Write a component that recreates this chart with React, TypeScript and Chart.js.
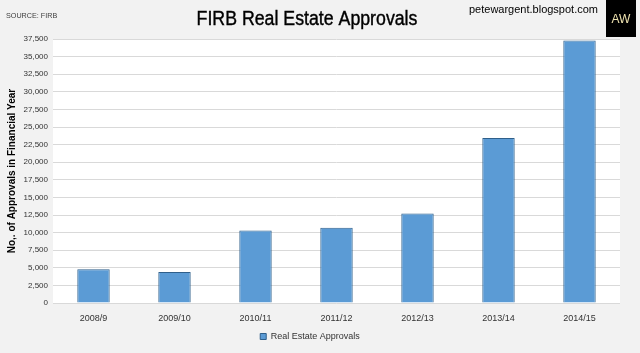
import React, { useEffect, useRef } from "react";
import { Chart, registerables } from "chart.js";

Chart.register(...registerables);

const categories = ["2008/9", "2009/10", "2010/11", "2011/12", "2012/13", "2013/14", "2014/15"];
const approvals = [4800, 4400, 10300, 10700, 12700, 23450, 37300];
const seriesName = "Real Estate Approvals";
const titleText = "FIRB Real Estate Approvals";
const sourceText = "SOURCE: FIRB";
const siteText = "petewargent.blogspot.com";
const yAxisTitle = "No,. of Approvals in Financial Year";

const FONT = "'Liberation Sans', Arial, sans-serif";

const decor = {
  id: "decor",
  beforeDraw(chart: any) {
    const { ctx, chartArea } = chart;
    ctx.save();
    ctx.fillStyle = "#f2f2f2";
    ctx.fillRect(0, 0, chart.width, chart.height);
    ctx.fillStyle = "#ffffff";
    ctx.fillRect(chartArea.left, chartArea.top, chartArea.right - chartArea.left, chartArea.bottom - chartArea.top);
    ctx.restore();
  },
  afterDraw(chart: any) {
    const { ctx } = chart;
    ctx.save();
    // title, horizontally condensed
    ctx.save();
    ctx.translate(307, 25);
    ctx.scale(0.887, 1);
    ctx.textAlign = "center";
    ctx.textBaseline = "alphabetic";
    ctx.fillStyle = "#000000";
    ctx.font = `20px ${FONT}`;
    ctx.fillText(titleText, 0, 0);
    ctx.strokeStyle = "#000000";
    ctx.lineWidth = 0.4;
    ctx.strokeText(titleText, 0, 0);
    ctx.restore();

    ctx.textBaseline = "middle";
    ctx.textAlign = "left";
    ctx.fillStyle = "#404040";
    ctx.font = `8px ${FONT}`;
    ctx.save();
    ctx.translate(6, 16);
    ctx.scale(0.9, 1);
    ctx.fillText(sourceText, 0, 0);
    ctx.restore();

    ctx.fillStyle = "#000000";
    ctx.font = `11px ${FONT}`;
    ctx.textAlign = "right";
    ctx.fillText(siteText, 598, 10);
    // logo box
    ctx.fillStyle = "#000000";
    ctx.fillRect(606, 0, 30, 37);
    ctx.fillStyle = "#efe3b0";
    ctx.textAlign = "center";
    ctx.font = `12px ${FONT}`;
    ctx.fillText("AW", 621, 20);
    ctx.restore();
  },
};

export default function App() {
  const ref = useRef<HTMLCanvasElement>(null);
  useEffect(() => {
    if (!ref.current) return;
    const chart = new Chart(ref.current, {
      type: "bar",
      data: {
        labels: categories,
        datasets: [
          {
            label: seriesName,
            data: approvals,
            backgroundColor: "#5b9bd5",
            borderColor: "#2f5f8a",
            borderWidth: 1,
            barPercentage: 0.4,
            categoryPercentage: 1,
          },
        ],
      },
      options: {
        animation: false,
        responsive: false,
        maintainAspectRatio: false,
        layout: { padding: { top: 39, right: 20, left: 0, bottom: 2 } },
        plugins: {
          title: { display: false },
          tooltip: { enabled: false },
          legend: {
            position: "bottom",
            labels: {
              boxWidth: 6,
              boxHeight: 6,
              padding: 10,
              color: "#333333",
              font: { family: FONT, size: 9 },
            },
          },
        },
        scales: {
          x: {
            grid: { display: false, drawTicks: false },
            border: { display: false },
            ticks: { color: "#333333", font: { family: FONT, size: 9 }, padding: 10, maxRotation: 0 },
            afterFit(scale: any) {
              scale.height = 19;
            },
          },
          y: {
            min: 0,
            max: 37500,
            grid: { color: "#d9d9d9", drawTicks: false, lineWidth: 1 },
            border: { display: false },
            ticks: {
              stepSize: 2500,
              color: "#333333",
              padding: 5,
              font: { family: FONT, size: 8 },
              callback: (v: any) => Number(v).toLocaleString("en-US"),
            },
            title: {
              display: true,
              text: yAxisTitle,
              color: "#000000",
              font: { family: FONT, size: 10, weight: "bold" },
              padding: { top: 6, bottom: 0 },
            },
            afterFit(scale: any) {
              scale.width = 53;
            },
          },
        },
      },
      plugins: [decor],
    } as any);
    return () => chart.destroy();
  }, []);
  return (
    <div style={{ position: "fixed", left: 0, top: 0, width: 640, height: 353 }}>
      <canvas ref={ref} width={640} height={353} style={{ display: "block" }} />
    </div>
  );
}
